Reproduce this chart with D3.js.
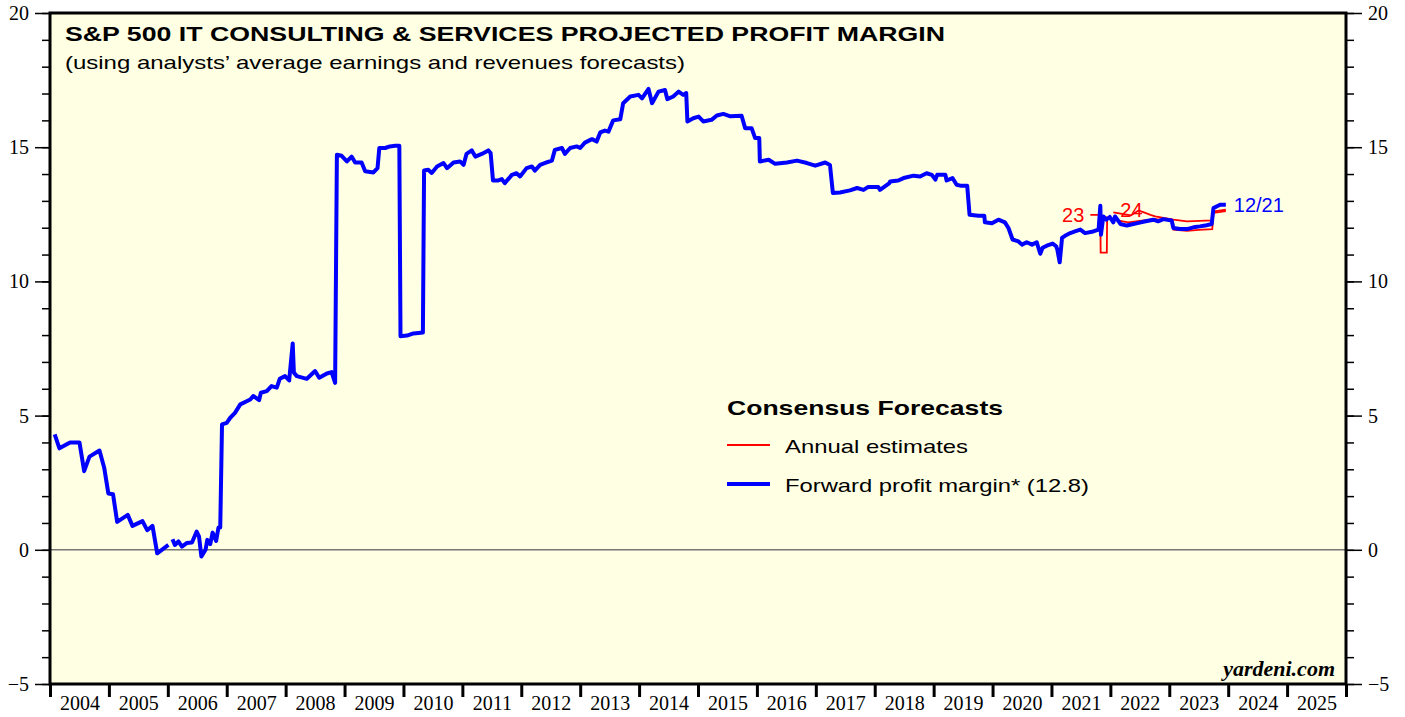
<!DOCTYPE html>
<html>
<head>
<meta charset="utf-8">
<script src="https://cdn.jsdelivr.net/npm/d3@7/dist/d3.min.js"></script>
<style>
  body { margin: 0; background: #fff; }
  svg { display: block; }
</style>
</head>
<body>
<svg id="chart" width="1405" height="717"></svg>
<script>
// forward profit margin, [decimal year, %]; null = gap in the series
const fwdMargin = [
  [2004.08,4.3],[2004.16,3.78],[2004.34,4.0],[2004.50,4.0],[2004.58,2.93],[2004.67,3.47],
  [2004.84,3.7],[2004.92,3.06],[2004.99,2.1],[2005.07,2.07],[2005.14,1.04],[2005.32,1.3],
  [2005.40,0.89],[2005.57,1.07],[2005.65,0.73],[2005.74,0.89],[2005.82,-0.13],[2006.01,0.18],
  [2006.04,null],
  [2006.08,0.39],[2006.12,0.18],[2006.18,0.31],[2006.24,0.12],[2006.32,0.25],[2006.41,0.27],
  [2006.49,0.68],[2006.53,0.49],[2006.57,-0.25],[2006.64,0.0],[2006.67,0.37],[2006.72,0.21],
  [2006.76,0.64],[2006.82,0.33],[2006.86,0.83],[2006.89,0.83],[2006.92,4.67],[2007.00,4.73],
  [2007.06,4.92],[2007.14,5.1],[2007.23,5.42],[2007.40,5.6],[2007.45,5.73],[2007.55,5.58],
  [2007.58,5.85],[2007.68,5.91],[2007.76,6.1],[2007.85,6.04],[2007.90,6.37],[2007.99,6.47],
  [2008.06,6.31],[2008.12,7.69],[2008.14,6.6],[2008.19,6.47],[2008.36,6.37],[2008.50,6.66],
  [2008.57,6.41],[2008.70,6.57],[2008.78,6.62],[2008.84,6.22],[2008.87,14.72],[2008.95,14.68],
  [2009.04,14.47],[2009.12,14.65],[2009.18,14.43],[2009.29,14.43],[2009.35,14.1],[2009.49,14.06],
  [2009.56,14.22],[2009.59,14.97],[2009.69,14.97],[2009.77,15.03],[2009.86,15.05],[2009.93,15.05],
  [2009.95,7.96],[2010.06,7.98],[2010.17,8.06],[2010.33,8.1],[2010.35,14.13],[2010.42,14.16],
  [2010.48,14.04],[2010.57,14.28],[2010.68,14.41],[2010.74,14.22],[2010.85,14.43],[2010.96,14.47],
  [2011.02,14.34],[2011.07,14.75],[2011.16,14.88],[2011.22,14.65],[2011.33,14.75],[2011.44,14.88],
  [2011.48,14.78],[2011.52,13.76],[2011.61,13.76],[2011.67,13.81],[2011.72,13.66],[2011.84,13.97],
  [2011.92,14.03],[2011.98,13.91],[2012.09,14.22],[2012.18,14.28],[2012.23,14.13],[2012.32,14.34],
  [2012.43,14.43],[2012.52,14.5],[2012.57,14.9],[2012.69,14.97],[2012.74,14.75],[2012.83,14.97],
  [2012.94,15.03],[2013.00,14.97],[2013.08,15.17],[2013.20,15.3],[2013.28,15.21],[2013.34,15.55],
  [2013.42,15.62],[2013.48,15.58],[2013.56,16.0],[2013.68,16.04],[2013.73,16.64],[2013.85,16.89],
  [2013.99,16.95],[2014.05,16.82],[2014.16,17.17],[2014.22,16.64],[2014.33,17.07],[2014.44,17.13],
  [2014.48,16.79],[2014.58,16.89],[2014.67,17.07],[2014.75,16.95],[2014.80,17.02],[2014.82,15.96],
  [2014.92,16.08],[2015.01,16.14],[2015.09,15.96],[2015.23,16.02],[2015.32,16.18],[2015.43,16.24],
  [2015.55,16.15],[2015.74,16.17],[2015.80,15.71],[2015.91,15.71],[2015.97,15.34],[2016.04,15.34],
  [2016.05,14.47],[2016.20,14.53],[2016.31,14.38],[2016.51,14.43],[2016.68,14.5],[2016.85,14.41],
  [2016.99,14.31],[2017.16,14.43],[2017.24,14.34],[2017.29,13.29],[2017.41,13.31],[2017.58,13.39],
  [2017.70,13.48],[2017.81,13.41],[2017.89,13.52],[2018.06,13.52],[2018.09,13.41],[2018.25,13.66],
  [2018.26,13.72],[2018.40,13.76],[2018.49,13.85],[2018.66,13.94],[2018.77,13.91],[2018.88,14.03],
  [2018.97,13.97],[2019.03,13.79],[2019.06,13.97],[2019.20,13.97],[2019.22,13.76],[2019.32,13.85],
  [2019.39,13.6],[2019.47,13.56],[2019.57,13.56],[2019.61,12.48],[2019.76,12.45],[2019.86,12.45],
  [2019.87,12.2],[2019.99,12.17],[2020.10,12.3],[2020.21,12.2],[2020.27,11.99],[2020.34,11.56],
  [2020.44,11.49],[2020.50,11.37],[2020.58,11.46],[2020.67,11.37],[2020.75,11.46],[2020.81,11.03],
  [2020.85,11.25],[2020.92,11.33],[2021.02,11.41],[2021.08,11.31],[2021.10,11.18],[2021.14,10.71],
  [2021.18,11.62],[2021.23,11.7],[2021.32,11.8],[2021.40,11.86],[2021.49,11.93],[2021.57,11.8],
  [2021.71,11.86],[2021.80,11.93],[2021.83,12.82],[2021.84,11.74],[2021.88,12.42],[2021.93,12.3],
  [2021.99,12.4],[2022.05,12.2],[2022.08,12.42],[2022.17,12.14],[2022.28,12.08],[2022.48,12.18],
  [2022.60,12.24],[2022.73,12.3],[2022.81,12.24],[2022.90,12.32],[2023.04,12.27],[2023.07,11.99],
  [2023.18,11.95],[2023.30,11.95],[2023.44,12.03],[2023.52,12.05],[2023.61,12.08],[2023.72,12.14],
  [2023.75,12.73],[2023.81,12.8],[2023.87,12.86],[2023.96,12.86]
];

// annual consensus estimates
const est2023 = [
  [2021.66,12.48],[2021.83,12.48],[2021.835,11.07],[2021.94,11.07],[2021.945,12.38],[2022.1,12.28],
  [2022.3,12.2],[2022.5,12.25],[2022.75,12.32],[2023.05,12.27],[2023.07,11.93],[2023.3,11.88],
  [2023.5,11.92],[2023.73,11.95],[2023.75,12.55],[2023.96,12.62]
];
const est2024 = [
  [2022.05,12.57],[2022.2,12.52],[2022.35,12.46],[2022.48,12.64],[2022.57,12.57],[2022.68,12.48],
  [2022.76,12.42],[2023.07,12.3],[2023.3,12.24],[2023.72,12.27],[2023.74,12.6],[2023.96,12.67]
];

const years = d3.range(2004, 2026);
const yMajor = [-5, 0, 5, 10, 15, 20];
const yMinor = d3.range(-5, 21);

const L = 50, R = 1346, T = 13, B = 684;

const svg = d3.select('#chart');
const x = d3.scaleLinear().domain([2004, 2026]).range([L, R]);
const y = d3.scaleLinear().domain([-5, 20]).range([B, T]);

// plot background
svg.append('rect')
  .attr('x', L).attr('y', T)
  .attr('width', R - L).attr('height', B - T)
  .attr('fill', '#ffffe3');

// zero line
svg.append('line')
  .attr('x1', L).attr('x2', R)
  .attr('y1', y(0)).attr('y2', y(0))
  .attr('stroke', '#777').attr('stroke-width', 1.4);

// y axes, minor then major ticks
const tickStyle = g => {
  g.select('.domain').remove();
  g.selectAll('line').attr('stroke', '#000').attr('stroke-width', 1.5);
  g.selectAll('text').attr('font-family', '"Liberation Serif", "Times New Roman", serif')
    .attr('font-size', 20).attr('fill', '#000');
};
svg.append('g').attr('transform', `translate(${L},0)`)
  .call(d3.axisLeft(y).tickValues(yMinor).tickSize(8).tickFormat(''))
  .call(tickStyle);
svg.append('g').attr('transform', `translate(${L},0)`)
  .call(d3.axisLeft(y).tickValues(yMajor).tickSize(15).tickPadding(6).tickFormat(d3.format('d')))
  .call(tickStyle);
svg.append('g').attr('transform', `translate(${R},0)`)
  .call(d3.axisRight(y).tickValues(yMinor).tickSize(8).tickFormat(''))
  .call(tickStyle);
svg.append('g').attr('transform', `translate(${R},0)`)
  .call(d3.axisRight(y).tickValues(yMajor).tickSize(16).tickPadding(6).tickFormat(d3.format('d')))
  .call(tickStyle);

// x axis: ticks at year boundaries, labels mid-year
svg.append('g').attr('transform', `translate(0,${B})`)
  .call(d3.axisBottom(x).tickValues(d3.range(2004, 2027)).tickSize(13).tickFormat(''))
  .call(g => { g.select('.domain').remove(); g.selectAll('line').attr('stroke', '#000').attr('stroke-width', 3); });
svg.append('g').attr('transform', `translate(0,${B})`)
  .call(d3.axisBottom(x).tickValues(years.map(d => d + 0.5)).tickSize(0).tickPadding(12)
    .tickFormat(d => String(Math.floor(d))))
  .call(tickStyle);

// frame
svg.append('rect')
  .attr('x', L).attr('y', T)
  .attr('width', R - L).attr('height', B - T)
  .attr('fill', 'none').attr('stroke', '#000').attr('stroke-width', 3);

// series
const line = d3.line()
  .defined(d => d[1] !== null)
  .x(d => x(d[0])).y(d => y(d[1]));

svg.append('path').datum(est2023)
  .attr('d', line).attr('fill', 'none').attr('stroke', '#ff0000').attr('stroke-width', 1.8);
svg.append('path').datum(est2024)
  .attr('d', line).attr('fill', 'none').attr('stroke', '#ff0000').attr('stroke-width', 1.8);
svg.append('path').datum(fwdMargin)
  .attr('d', line).attr('fill', 'none').attr('stroke', '#0000ff')
  .attr('stroke-width', 4).attr('stroke-linejoin', 'round');

// series labels
const sans = '"Liberation Sans", Arial, sans-serif';
svg.append('text').attr('x', x(est2023[0][0]) - 6).attr('y', y(est2023[0][1]) + 7)
  .attr('text-anchor', 'end').attr('font-family', sans).attr('font-size', 20)
  .attr('fill', '#ff0000').text('23');
svg.append('text').attr('x', x(est2024[0][0]) + 7).attr('y', y(est2024[0][1]) + 5)
  .attr('font-family', sans).attr('font-size', 20)
  .attr('fill', '#ff0000').text('24');
const last = fwdMargin[fwdMargin.length - 1];
svg.append('text').attr('x', x(last[0]) + 8).attr('y', y(last[1]) + 7)
  .attr('font-family', sans).attr('font-size', 20)
  .attr('fill', '#0000ff').text('12/21');

// stretched sans text, as in the original artwork
const wide = (tx, ty, size, bold, len, str) => svg.append('text')
  .attr('x', tx).attr('y', ty)
  .attr('font-family', sans).attr('font-size', size)
  .attr('font-weight', bold ? 'bold' : 'normal')
  .attr('textLength', len).attr('lengthAdjust', 'spacingAndGlyphs')
  .text(str);

// titles
wide(65, 41, 21, true, 880, 'S&P 500 IT CONSULTING & SERVICES PROJECTED PROFIT MARGIN');
wide(65, 69, 19, false, 620, '(using analysts’ average earnings and revenues forecasts)');

// legend
wide(727, 415, 21, true, 276, 'Consensus Forecasts');
svg.append('line').attr('x1', 727).attr('x2', 770).attr('y1', 445).attr('y2', 445)
  .attr('stroke', '#ff0000').attr('stroke-width', 1.8);
wide(785, 453, 19, false, 183, 'Annual estimates');
svg.append('line').attr('x1', 727).attr('x2', 770).attr('y1', 484).attr('y2', 484)
  .attr('stroke', '#0000ff').attr('stroke-width', 4);
wide(785, 492, 19, false, 304, 'Forward profit margin* (12.8)');

// source
svg.append('text').attr('x', 1335).attr('y', 676).attr('text-anchor', 'end')
  .attr('font-family', '"Liberation Serif", "Times New Roman", serif')
  .attr('font-weight', 'bold').attr('font-style', 'italic').attr('font-size', 22)
  .text('yardeni.com');
</script>
</body>
</html>
